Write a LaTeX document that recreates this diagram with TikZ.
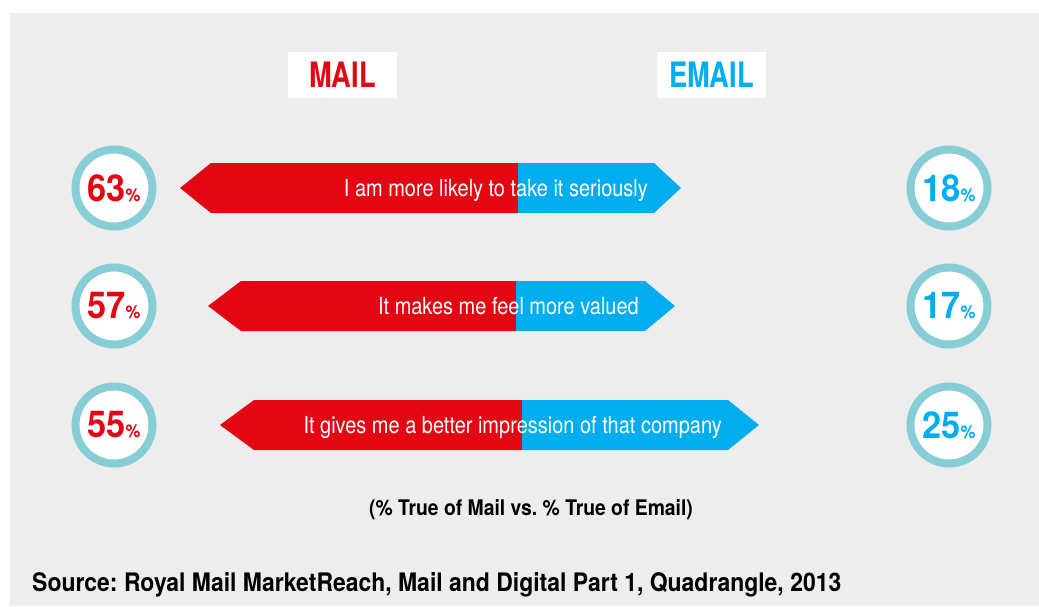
\documentclass[tikz,border=0pt]{standalone}
\usepackage{fontspec}
\setmainfont[FakeStretch=0.9]{TeX Gyre Heros}
\newfontfamily\tagfont[FakeStretch=0.78]{TeX Gyre Heros}
\newfontfamily\numfont[FakeStretch=0.93]{TeX Gyre Heros}
\newfontfamily\claimfont[FakeStretch=0.85]{TeX Gyre Heros}
\frenchspacing
\usetikzlibrary{positioning}
\definecolor{rmred}{HTML}{E30613}
\definecolor{emblue}{HTML}{00AEEF}
\definecolor{ringteal}{HTML}{86CDD6}
\definecolor{bggray}{HTML}{EDEDED}
\newcommand{\pct}{{\fontsize{18}{20}\selectfont\%}}

\begin{document}
\begin{tikzpicture}[x=1pt,y=-1pt,
    tag/.style={fill=white,minimum width=109pt,minimum height=46pt,inner sep=0pt,
      font=\tagfont\fontsize{35}{40}\selectfont\bfseries},
    ring/.style={circle,draw=ringteal,line width=8pt,fill=white,minimum size=77pt,
      inner sep=0pt,font=\numfont\fontsize{37}{40}\selectfont\bfseries},
    claim/.style={text=white,inner sep=0pt,font=\claimfont\fontsize{23.5}{26}\selectfont}]
    \useasboundingbox (0,0) rectangle (1039,606);
    \fill[bggray] (10,13) rectangle (1039,606);
    \node[tag,text=rmred] (mail) at (342.5,75) {MAIL};
    \node[tag,text=emblue] (email) at (711.5,75) {EMAIL};
    \foreach \y/\a/\b/\c/\d/\e/\m/\n/\txt [count=\i] in
      {188/180/211/518/654/681/63/18/{I am more likely to take it seriously},
       306/208/241/516/645/675/57/17/{It makes me feel more valued},
       425/220/254/522/728/759/55/25/{It gives me a better impression of that company}} {
      \fill[rmred] (\a,\y) -- (\b,\y-25) -- (\c,\y-25) -- (\c,\y+25) -- (\b,\y+25) -- cycle;
      \fill[emblue] (\c,\y-25) -- (\d,\y-25) -- (\e,\y) -- (\d,\y+25) -- (\c,\y+25) -- cycle;
      \node[claim,anchor=base east] (claim\i) at (\d-6,\y+8.5) {\txt};
      \node[ring,text=rmred] (mailpct\i) at (114,\y) {\m\pct};
      \node[ring,text=emblue] (emailpct\i) at (949,\y) {\n\pct};
    }
    \node[anchor=base,font=\fontsize{21.5}{24}\selectfont\bfseries] (note) at (531,515)
      {(\% True of Mail vs. \% True of Email)};
    \node[anchor=base west,inner sep=0pt,font=\fontsize{25.5}{28}\selectfont\bfseries] (source) at (32,591)
      {Source: Royal Mail MarketReach, Mail and Digital Part 1, Quadrangle, 2013};
\end{tikzpicture}
\end{document}
